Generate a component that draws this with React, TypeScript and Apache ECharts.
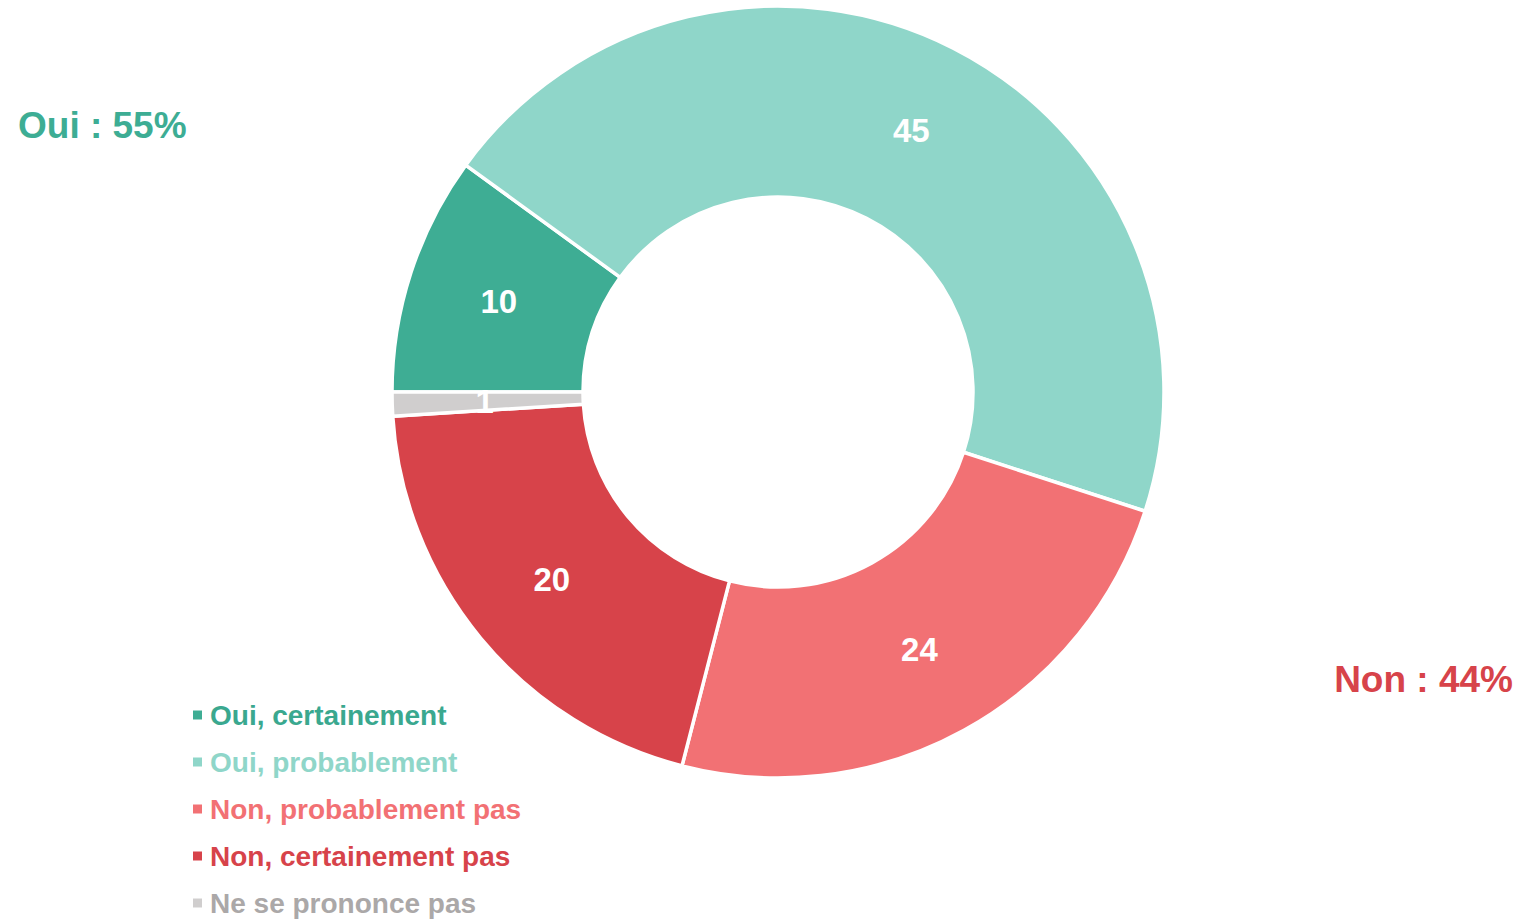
import React, { useEffect, useRef } from "react";
import * as echarts from "echarts";

const categories = [
  "Oui, certainement",
  "Oui, probablement",
  "Non, probablement pas",
  "Non, certainement pas",
  "Ne se prononce pas",
];
const values = [10, 45, 24, 20, 1];
const colors = ["#3EAD94", "#8FD6C9", "#F27174", "#D7434A", "#D0CECE"];
const legendTextColors = ["#3AA88F", "#8FD6C9", "#F27174", "#D7434A", "#ABA8A8"];
const annotations = ["Oui : 55%", "Non : 44%"];

const FONT = "'Liberation Sans', Arial, Helvetica, sans-serif";

export default function App() {
  const ref = useRef<HTMLDivElement>(null);
  useEffect(() => {
    if (!ref.current) return;
    const chart = echarts.init(ref.current, undefined, { renderer: "svg" });
    chart.setOption({
      animation: false,
      backgroundColor: "#ffffff",
      legend: {
        orient: "vertical",
        left: 193,
        top: 701,
        padding: 0,
        itemWidth: 9,
        itemHeight: 9,
        itemGap: 19,
        icon: "rect",
        itemStyle: { borderWidth: 0 },
        data: categories.map((c, i) => ({
          name: c,
          textStyle: { color: legendTextColors[i] },
        })),
        textStyle: {
          fontFamily: FONT,
          fontWeight: "bold",
          fontSize: 28,
          padding: [0, 0, 0, 3],
        },
      },
      graphic: [
        {
          type: "text",
          left: 18,
          top: 107,
          style: {
            text: annotations[0],
            fill: "#3DAD94",
            font: `bold 37px ${FONT}`,
          },
        },
        {
          type: "text",
          right: 8,
          top: 661,
          style: {
            text: annotations[1],
            fill: "#D7434A",
            font: `bold 37px ${FONT}`,
          },
        },
      ],
      series: [
        {
          type: "pie",
          center: [778, 392],
          radius: [195, 386],
          startAngle: 180,
          clockwise: true,
          avoidLabelOverlap: false,
          itemStyle: { borderColor: "#ffffff", borderWidth: 3.5 },
          label: {
            show: true,
            position: "inside",
            formatter: "{c}",
            color: "#ffffff",
            fontFamily: FONT,
            fontWeight: "bold",
            fontSize: 33,
          },
          labelLine: { show: false },
          emphasis: { disabled: true },
          data: categories.map((c, i) => ({
            name: c,
            value: values[i],
            itemStyle: { color: colors[i] },
          })),
        },
      ],
    });
    return () => chart.dispose();
  }, []);
  return (
    <div
      ref={ref}
      style={{ position: "absolute", left: 0, top: 0, width: 1521, height: 921 }}
    />
  );
}
